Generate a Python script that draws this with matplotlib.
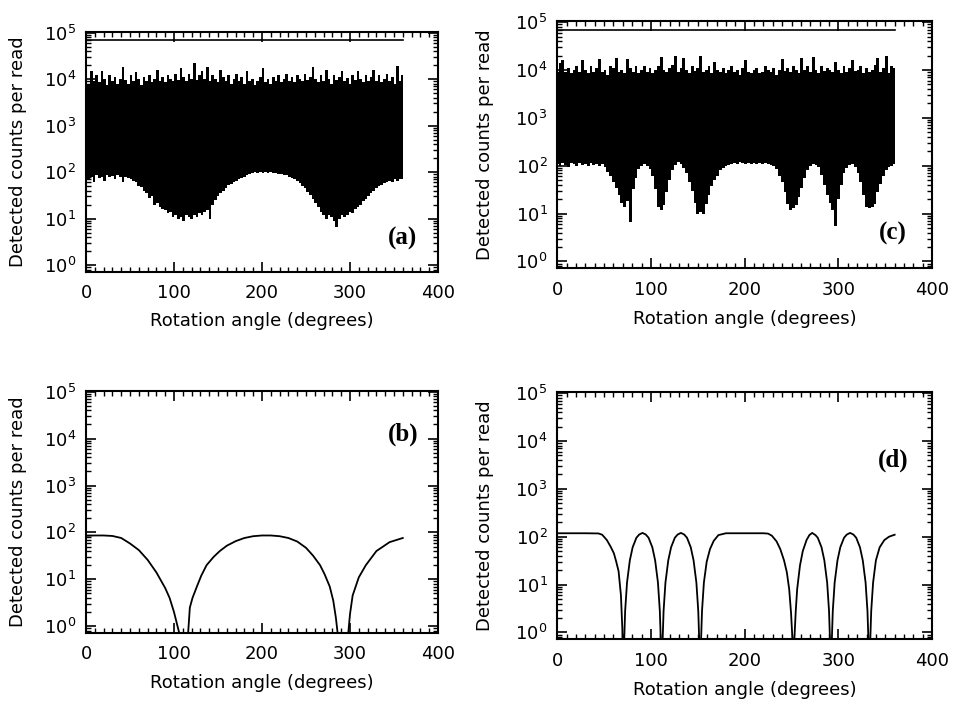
import numpy as np
import matplotlib
matplotlib.use('Agg')
import matplotlib.pyplot as plt
from matplotlib.ticker import MultipleLocator, LogLocator

# angle grid of the two noisy scans (every 3 degrees)
scan_angle = np.arange(0, 361, 3)

# panel (a): upper and lower edge of the black band, counts per read
a_upper = [11000, 8000, 15000, 9000, 12000, 8500, 15000, 10000, 7500, 12000,
           9000, 11000, 8000, 10000, 18000, 9500, 8000, 12000, 9000, 14000,
           10000, 7500, 11000, 9000, 12000, 8500, 10000, 16000, 9000, 11000,
           8500, 12000, 10000, 9000, 13000, 9500, 17000, 11000, 9000, 13000,
           10000, 22000, 9500, 12000, 15000, 10000, 18000, 9000, 12000, 10000,
           8500, 16000, 11000, 9000, 12000, 8000, 10000, 13000, 9000, 11000,
           8000, 15000, 9000, 10000, 7500, 9000, 11000, 17000, 8500, 10000,
           8000, 11000, 9000, 12000, 8500, 10000, 13000, 9000, 11000, 8500,
           12000, 10000, 9000, 13000, 9500, 11000, 18000, 10000, 8500, 12000,
           9000, 16000, 10000, 8000, 12000, 9500, 11000, 15000, 9000, 10500,
           8000, 12000, 9500, 15000, 10000, 8500, 12000, 9000, 11000, 16000,
           9000, 12000, 8500, 10000, 13000, 9000, 11000, 8000, 19000, 9000,
           12000]
a_lower = [85, 70, 80, 60, 85, 75, 80, 65, 85, 78,
           82, 70, 85, 80, 62, 80, 75, 70, 65, 60,
           50, 48, 40, 35, 28, 30, 20, 22, 18, 16,
           15, 13, 14, 11, 12, 10, 11, 9, 12, 11,
           10, 12, 11, 13, 12, 14, 15, 10, 20, 25,
           30, 35, 40, 45, 52, 55, 60, 65, 72, 75,
           80, 85, 90, 95, 100, 95, 100, 98, 100, 95,
           100, 98, 95, 90, 92, 88, 85, 80, 75, 70,
           65, 58, 50, 45, 38, 32, 26, 22, 18, 14,
           12, 10, 12, 11, 9, 6.5, 10, 12, 11, 12,
           14, 13, 16, 18, 20, 24, 27, 30, 35, 40,
           45, 50, 52, 58, 60, 65, 62, 70, 65, 72,
           70]

# panel (c)
c_upper = [9000, 14000, 16000, 9000, 11000, 8500, 10000, 12000, 9000, 16000,
           10000, 8500, 12000, 9000, 11000, 17000, 9000, 10000, 8000, 12000,
           11000, 18000, 9000, 10000, 8500, 17000, 11000, 9000, 12000, 8500,
           10000, 12000, 9000, 11000, 8500, 10000, 12000, 19000, 10000, 9000,
           11000, 13000, 20000, 9000, 11000, 18000, 10000, 8500, 12000, 9500,
           11000, 20000, 9000, 10000, 12000, 8500, 15000, 10000, 9000, 11000,
           8500, 10000, 12000, 9000, 10000, 8000, 11000, 16000, 9000, 8500,
           10000, 11000, 8500, 9000, 12000, 10000, 9000, 11000, 8000, 10000,
           17000, 9500, 11000, 9000, 12000, 10000, 8500, 18000, 10000, 12000,
           9000, 19000, 10000, 8500, 12000, 9500, 11000, 10000, 9000, 15000,
           10000, 8500, 12000, 9000, 11000, 16000, 9500, 10000, 12000, 8500,
           11000, 9000, 10000, 13000, 18000, 9000, 11000, 20000, 8500, 12000,
           11000]
c_lower = [110, 100, 115, 105, 95, 112, 108, 100, 115, 105,
           110, 98, 112, 105, 108, 100, 110, 95, 75, 60,
           45, 35, 25, 17, 14, 18, 6.5, 32, 55, 85,
           100, 110, 100, 85, 60, 32, 14, 12, 15, 28,
           50, 80, 105, 120, 110, 90, 70, 45, 30, 17,
           10, 11, 10, 16, 25, 37, 50, 62, 80, 90,
           100, 105, 110, 115, 110, 118, 112, 110, 115, 108,
           112, 110, 115, 108, 112, 110, 105, 100, 85, 62,
           45, 28, 16, 12, 13, 15, 22, 35, 55, 80,
           100, 110, 105, 92, 65, 40, 25, 17, 12, 5.5,
           20, 40, 70, 90, 105, 110, 95, 72, 45, 25,
           14, 13, 14, 16, 28, 42, 60, 80, 95, 100,
           110]

# flat reference level drawn across (a) and (c)
ref_level = 7e4

# panel (b): smooth model curve
b_angle = [0, 10, 20, 30, 40, 50, 60, 70, 80, 90, 95, 100, 104, 107, 109, 111,
           113, 116, 118, 121, 126, 131, 137, 145, 152, 160, 170, 180, 190, 200,
           210, 220, 230, 240, 250, 258, 266, 271, 277, 281, 284, 286, 289, 292,
           295, 298, 300, 303, 310, 318, 330, 345, 360]
b_counts = [85, 86, 86, 84, 76, 58, 42, 26, 14, 6.5, 4, 2, 1, 0.6, 0.2, 0.05,
            0.2, 0.7, 2.5, 4, 7, 12, 20, 30, 40, 52, 65, 76, 83, 86,
            86, 83, 76, 64, 47, 32, 20, 13, 7, 3.5, 1.5, 0.7, 0.2, 0.05,
            0.2, 0.7, 1.8, 4.5, 11, 20, 40, 62, 76]

# panel (d)
d_angle = [0, 15, 30, 44, 48, 53, 57, 60.5, 63, 65.5, 68, 69.5, 70.5, 71.5, 72.5,
           74.5, 77.5, 80.5, 84.5, 87.5, 91, 94.5, 97.5, 101.5, 104.5, 107.5, 109.5,
           110.5, 111.5, 112.5, 113.5, 115.5, 118.5, 121.5, 125.5, 128.5, 132,
           135.5, 138.5, 142.5, 145.5, 148.5, 150.5, 151.5, 152.5, 153.5, 154.5,
           156.5, 159.5, 163, 167, 172, 180, 200, 220, 225, 229, 234, 238, 242,
           245, 247.5, 249.5, 251, 252, 253, 254.5, 256, 259, 262, 266, 269, 272,
           275.5, 278, 282, 285, 288, 290, 291, 292, 293, 294, 296, 299, 302, 306,
           309, 312.5, 316, 319, 323, 326, 329, 331, 332, 333, 334, 335, 337, 340,
           344, 349, 354, 360]
d_counts = [118, 118, 118, 117, 110, 85, 62, 45, 30, 19, 6, 1.2, 0.05, 0.7, 2.8,
            11, 32, 60, 95, 111, 120, 111, 95, 60, 32, 11, 2.8,
            0.7, 0.05, 0.7, 2.8, 11, 32, 60, 95, 111, 120,
            111, 95, 60, 32, 11, 2.8, 0.7, 0.05, 0.7, 2.8,
            11, 30, 55, 82, 108, 118, 118, 118, 116, 105, 80, 55, 32,
            18, 8, 2.5, 0.7, 0.05, 0.7, 2.8, 8, 25, 50, 85, 108, 120,
            108, 95, 60, 32, 11, 2.8, 0.7, 0.05, 0.7, 2.8, 11, 32, 60, 95,
            111, 120, 111, 95, 60, 32, 11, 2.8, 0.7, 0.05, 0.7, 2.8, 11, 32,
            60, 85, 100, 110]

tick_font = 13
label_font = 13

fig = plt.figure(figsize=(9.59, 7.04), dpi=100)
ax_a = fig.add_axes([0.0897, 0.614, 0.367, 0.341])
ax_c = fig.add_axes([0.581, 0.619, 0.391, 0.351])
ax_b = fig.add_axes([0.0897, 0.101, 0.367, 0.344])
ax_d = fig.add_axes([0.581, 0.092, 0.391, 0.351])

# noisy scans
for ax, low, up in [(ax_a, a_lower, a_upper), (ax_c, c_lower, c_upper)]:
    ax.fill_between(scan_angle, low, up, step='mid', color='black', lw=0)
    ax.plot([scan_angle[0], scan_angle[-1]], [ref_level, ref_level],
            color='black', lw=1.2)

# model curves
ax_b.plot(b_angle, b_counts, color='black', lw=1.3)
ax_d.plot(d_angle, d_counts, color='black', lw=1.3)

letters = [(ax_a, '(a)', 0.90, 0.14), (ax_c, '(c)', 0.896, 0.14),
           (ax_b, '(b)', 0.90, 0.82), (ax_d, '(d)', 0.896, 0.725)]

for ax, txt, tx, ty in letters:
    ax.set_yscale('log')
    ax.set_xlim(0, 400)
    ax.set_ylim(0.72, 1.05e5)
    ax.set_xticks([0, 100, 200, 300, 400])
    ax.xaxis.set_minor_locator(MultipleLocator(10))
    ax.yaxis.set_major_locator(LogLocator(base=10, numticks=10))
    ax.yaxis.set_minor_locator(LogLocator(base=10, subs=np.arange(2, 10), numticks=20))
    ax.tick_params(which='both', direction='in', top=True, right=True)
    ax.tick_params(which='major', length=7, width=1.2, labelsize=tick_font)
    ax.tick_params(which='minor', length=3.5, width=1.0)
    ax.tick_params(axis='x', which='major', pad=9)
    ax.tick_params(axis='y', which='major', pad=7)
    for sp in ax.spines.values():
        sp.set_linewidth(1.5)
    ax.set_xlabel('Rotation angle (degrees)', fontsize=label_font)
    ax.set_ylabel('Detected counts per read', fontsize=label_font)
    ax.xaxis.set_label_coords(0.5, -0.205)
    ax.xaxis.label.set_va('center')
    ax.yaxis.set_label_coords(-0.193, 0.5)
    ax.yaxis.label.set_va('center')
    ax.text(tx, ty, txt, transform=ax.transAxes, ha='center', va='center',
            fontsize=18, fontweight='bold', family='Liberation Serif')

plt.savefig('out.png', dpi=100)
